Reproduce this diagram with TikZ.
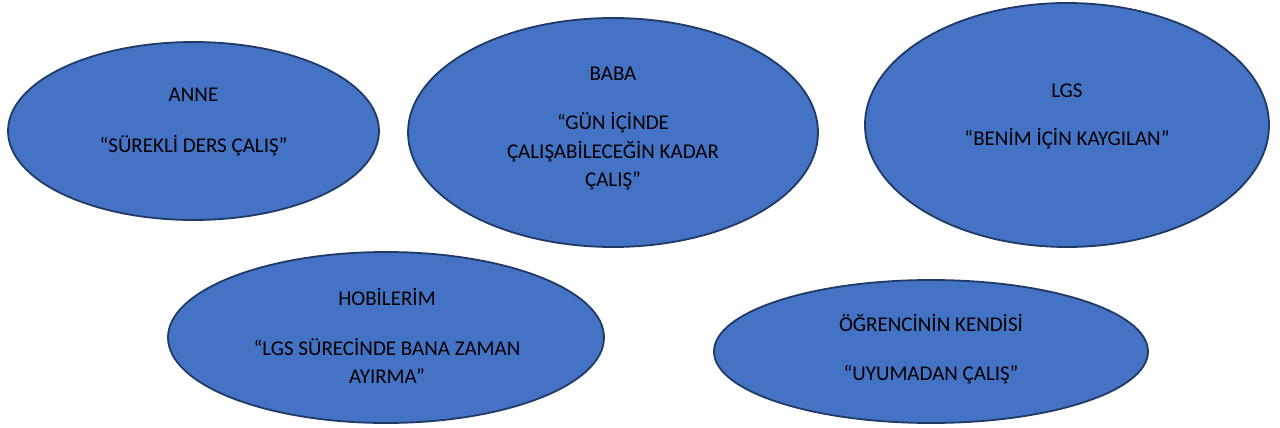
\documentclass[tikz,border=0pt]{standalone}
\usepackage{fontspec}
\setmainfont{Carlito}
\usetikzlibrary{shapes.geometric}
\definecolor{ellfill}{HTML}{4472C4}
\definecolor{elldraw}{HTML}{203A66}
\begin{document}
\begin{tikzpicture}[x=1pt,y=-1pt,
  oval/.style={ellipse,fill=ellfill,draw=elldraw,line width=1.8pt,inner sep=0pt},
  txt/.style={anchor=base,align=center,text=black,inner sep=0pt,font=\fontsize{21}{28.5}\selectfont}]
\useasboundingbox (0,0) rectangle (1280,428);
\node[oval,minimum width=371pt,minimum height=178pt] (anne) at (193.5,131) {};
\node[oval,minimum width=410pt,minimum height=229pt] (baba) at (613,132.5) {};
\node[oval,minimum width=404pt,minimum height=244pt] (lgs) at (1067,125) {};
\node[oval,minimum width=436pt,minimum height=171pt] (hob) at (386,337.5) {};
\node[oval,minimum width=434pt,minimum height=143pt] (ogr) at (931,351.5) {};
\node[txt] (anneT) at (193.5,102) {ANNE};
\node[txt] (anneQ) at (193.5,152) {“SÜREKLİ DERS ÇALIŞ”};
\node[txt] (babaT) at (613,81) {BABA};
\node[txt] (babaQ) at (613,186.5) {“GÜN İÇİNDE\\ÇALIŞABİLECEĞİN KADAR\\ÇALIŞ”};
\node[txt] (lgsT) at (1067,97) {LGS};
\node[txt] (lgsQ) at (1067,145.5) {“BENİM İÇİN KAYGILAN”};
\node[txt] (hobT) at (387,305) {HOBİLERİM};
\node[txt] (hobQ) at (387,383.5) {“LGS SÜRECİNDE BANA ZAMAN\\AYIRMA”};
\node[txt] (ogrT) at (931,331) {ÖĞRENCİNİN KENDİSİ};
\node[txt] (ogrQ) at (931,380) {“UYUMADAN ÇALIŞ”};
\end{tikzpicture}
\end{document}
